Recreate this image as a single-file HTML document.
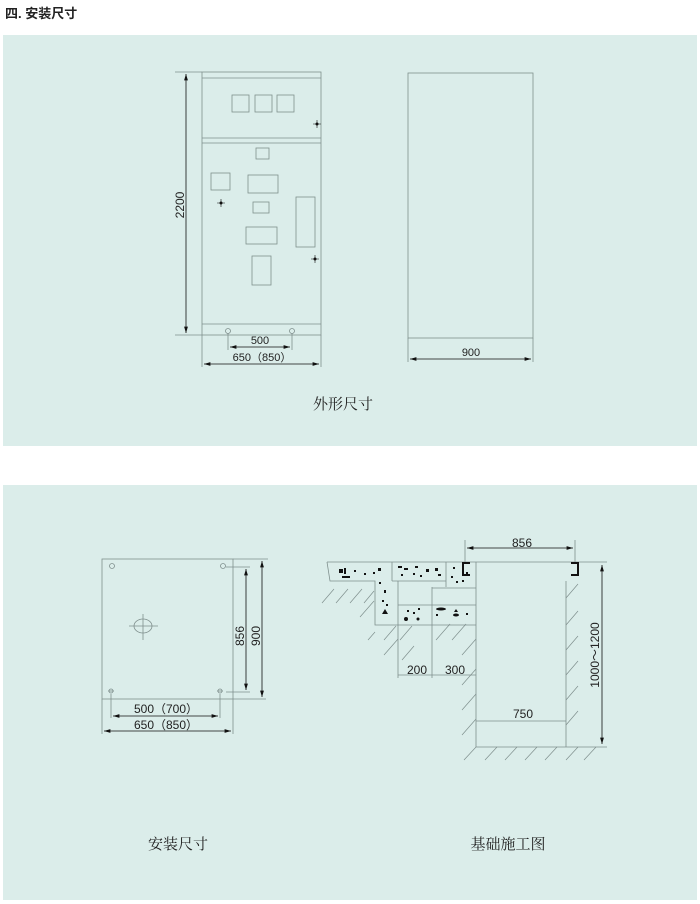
<!DOCTYPE html>
<html><head><meta charset="utf-8"><style>
body{margin:0;width:700px;height:904px;background:#fff;overflow:hidden}
svg{display:block}
text{font-family:"Liberation Sans","Noto Sans CJK SC",sans-serif;fill:#222}
</style></head><body>
<svg width="700" height="904" viewBox="0 0 700 904">
<defs>
<marker id="a" viewBox="0 0 10 6" refX="10" refY="3" markerWidth="8" markerHeight="5" orient="auto-start-reverse"><path d="M0,0L10,3L0,6z" fill="#111"/></marker>
</defs>
<text x="5" y="18" font-size="13" font-weight="bold">四. 安装尺寸</text>
<rect x="3" y="35" width="694" height="411" fill="#dbedea"/>
<rect x="3" y="485" width="694" height="415" fill="#dbedea"/>
<g stroke="#7f8f8d" stroke-width="0.8" fill="none">
<rect x="202" y="72" width="119" height="263"/>
<line x1="202" y1="78" x2="321" y2="78"/>
<line x1="202" y1="138" x2="321" y2="138"/><line x1="202" y1="143" x2="321" y2="143"/>
<line x1="202" y1="324" x2="321" y2="324"/>
<rect x="232" y="95" width="17" height="17"/><rect x="255" y="95" width="17" height="17"/><rect x="277" y="95" width="17" height="17"/>
<rect x="256" y="148" width="13" height="11"/><rect x="211" y="173" width="19" height="17"/><rect x="248" y="175" width="30" height="18"/>
<rect x="253" y="202" width="16" height="11"/><rect x="296" y="197" width="19" height="50"/><rect x="246" y="227" width="31" height="17"/><rect x="252" y="256" width="19" height="29"/>
<line x1="175" y1="72" x2="202" y2="72"/><line x1="175" y1="335" x2="202" y2="335"/>
<line x1="186" y1="74" x2="186" y2="333" stroke="#111" marker-start="url(#a)" marker-end="url(#a)"/>
<circle cx="228" cy="331" r="2.5"/><circle cx="292" cy="331" r="2.5"/>
<line x1="228" y1="333" x2="228" y2="350"/><line x1="292" y1="333" x2="292" y2="350"/>
<line x1="230" y1="347" x2="290" y2="347" stroke="#111" marker-start="url(#a)" marker-end="url(#a)"/>
<line x1="202" y1="335" x2="202" y2="367"/><line x1="321" y1="335" x2="321" y2="367"/>
<line x1="204" y1="364" x2="319" y2="364" stroke="#111" marker-start="url(#a)" marker-end="url(#a)"/>
<rect x="408" y="73" width="125" height="265"/>
<line x1="408" y1="338" x2="408" y2="362"/><line x1="533" y1="338" x2="533" y2="362"/>
<line x1="410" y1="359" x2="531" y2="359" stroke="#111" marker-start="url(#a)" marker-end="url(#a)"/>
<rect x="102" y="559" width="131" height="140"/>
<line x1="233" y1="559" x2="268" y2="559"/><line x1="233" y1="699" x2="266" y2="699"/>
<circle cx="112" cy="566" r="2.5"/><circle cx="223" cy="566" r="2.5"/>
<circle cx="111" cy="691" r="2"/><circle cx="220" cy="691" r="2"/>
<line x1="108" y1="691" x2="114" y2="691"/><line x1="217" y1="691" x2="223" y2="691"/>
<ellipse cx="143" cy="626" rx="9" ry="7"/><line x1="129" y1="626" x2="158" y2="626"/><line x1="143" y1="614" x2="143" y2="640"/>
<line x1="226" y1="567" x2="250" y2="567"/><line x1="226" y1="692" x2="250" y2="692"/>
<line x1="246" y1="569" x2="246" y2="690" stroke="#111" marker-start="url(#a)" marker-end="url(#a)"/>
<line x1="262" y1="561" x2="262" y2="697" stroke="#111" marker-start="url(#a)" marker-end="url(#a)"/>
<line x1="111" y1="694" x2="111" y2="718"/><line x1="220" y1="694" x2="220" y2="718"/>
<line x1="113" y1="716" x2="218" y2="716" stroke="#111" marker-start="url(#a)" marker-end="url(#a)"/>
<line x1="102" y1="699" x2="102" y2="734"/><line x1="233" y1="699" x2="233" y2="734"/>
<line x1="104" y1="731" x2="231" y2="731" stroke="#111" marker-start="url(#a)" marker-end="url(#a)"/>
<line x1="327" y1="562" x2="607" y2="562"/>
<polyline points="327,562 330,581 375,581 375,625 476,625"/>
<line x1="392" y1="562" x2="392" y2="581"/><line x1="392" y1="581" x2="446" y2="581"/><line x1="446" y1="562" x2="446" y2="587"/>
<line x1="432" y1="588" x2="476" y2="588"/><line x1="398" y1="605" x2="476" y2="605"/>
<line x1="398" y1="581" x2="398" y2="678"/><line x1="432" y1="587" x2="432" y2="678"/>
<line x1="398" y1="675" x2="476" y2="675"/>
<line x1="476" y1="562" x2="476" y2="747"/><line x1="566" y1="581" x2="566" y2="747"/>
<line x1="476" y1="721" x2="566" y2="721"/><line x1="476" y1="747" x2="607" y2="747"/>
<line x1="465" y1="540" x2="465" y2="562"/><line x1="575" y1="540" x2="575" y2="562"/>
<line x1="467" y1="548" x2="573" y2="548" stroke="#111" marker-start="url(#a)" marker-end="url(#a)"/>
<line x1="602" y1="565" x2="602" y2="744" stroke="#111" marker-start="url(#a)" marker-end="url(#a)"/>
<g stroke-width="0.7">
<path d="M322,603l12,-14M336,603l12,-14M350,603l12,-14M364,603l10,-12M360,617l14,-16M368,640l7,-8M384,640l12,-14M384,655l14,-16M400,640l12,-14M402,660l12,-14M436,640l14,-16M452,640l14,-16M462,655l14,-16M462,685l14,-16M462,710l14,-16M462,735l14,-16M464,760l12,-13M485,760l12,-13M505,760l12,-13M525,760l12,-13M545,760l12,-13M566,760l12,-13M584,760l12,-13M566,598l12,-14M566,625l12,-14M566,650l12,-14M566,675l12,-14M566,700l12,-14M566,725l12,-14"/>
</g>
</g>
<g stroke="#111" stroke-width="2" fill="none">
<polyline points="470,563 463,563 463,575 470,575"/><polyline points="571,563 578,563 578,575 571,575"/>
</g>
<g stroke="#111" stroke-width="0.6">
<path d="M313,124h8M317,120v8M217,203h8M221,199v8M311,259h8M315,255v8"/>
</g>
<g fill="#111">
<circle cx="317" cy="124" r="1.5"/><circle cx="221" cy="203" r="1.5"/><circle cx="315" cy="259" r="1.5"/>
<rect x="339" y="569" width="4" height="4"/><rect x="344" y="568" width="2" height="6"/><rect x="342" y="576" width="8" height="2"/><rect x="378" y="568" width="3" height="3"/><rect x="373" y="572" width="2" height="2"/><rect x="354" y="570" width="2" height="2"/><rect x="364" y="573" width="2" height="2"/>
<rect x="379" y="582" width="2" height="2"/><rect x="384" y="590" width="2" height="3"/><rect x="382" y="600" width="2" height="2"/><path d="M382,614l3,-5l3,5z"/><rect x="386" y="604" width="2" height="2"/>
<rect x="398" y="566" width="4" height="2"/><rect x="404" y="568" width="4" height="2"/><rect x="415" y="566" width="3" height="2"/><rect x="426" y="569" width="3" height="3"/><rect x="435" y="568" width="3" height="3"/><rect x="413" y="573" width="2" height="2"/><rect x="420" y="575" width="2" height="2"/><rect x="438" y="574" width="3" height="2"/><rect x="401" y="574" width="2" height="2"/>
<rect x="453" y="567" width="2" height="2"/><rect x="451" y="576" width="2" height="2"/><rect x="456" y="581" width="2" height="2"/><rect x="462" y="580" width="2" height="2"/><rect x="466" y="572" width="2" height="2"/>
<rect x="407" y="610" width="2" height="2"/><rect x="413" y="612" width="2" height="2"/><rect x="418" y="608" width="2" height="2"/><circle cx="406" cy="619" r="2"/><circle cx="418" cy="619" r="1.5"/>
<ellipse cx="441" cy="609" rx="5" ry="1.5"/><ellipse cx="456" cy="615" rx="3" ry="1.5"/><path d="M454,612l2,-3l2,3z"/><rect x="436" y="614" width="2" height="2"/><rect x="466" y="613" width="2" height="2"/>
</g>
<g font-size="11" text-anchor="middle">
<text x="260" y="344">500</text>
<text x="262" y="361">650（850）</text>
<text x="471" y="356">900</text>
<text transform="translate(184,205) rotate(-90)" font-size="12">2200</text>
<text x="166" y="713" font-size="12">500（700）</text>
<text x="166" y="729" font-size="12">650（850）</text>
<text transform="translate(244,636) rotate(-90)" font-size="12">856</text>
<text transform="translate(260,636) rotate(-90)" font-size="12">900</text>
<text x="522" y="547" font-size="12">856</text>
<text x="417" y="674" font-size="12">200</text>
<text x="455" y="674" font-size="12">300</text>
<text x="523" y="718" font-size="12">750</text>
<text transform="translate(599,655) rotate(-90)" font-size="12">1000～1200</text>
</g>
<g font-size="15" text-anchor="middle">
<text x="343" y="409" style="font-family:'Noto Serif CJK SC',serif">外形尺寸</text>
<text x="178" y="849" style="font-family:'Noto Serif CJK SC',serif">安装尺寸</text>
<text x="508" y="849" style="font-family:'Noto Serif CJK SC',serif">基础施工图</text>
</g>
</svg>
</body></html>
